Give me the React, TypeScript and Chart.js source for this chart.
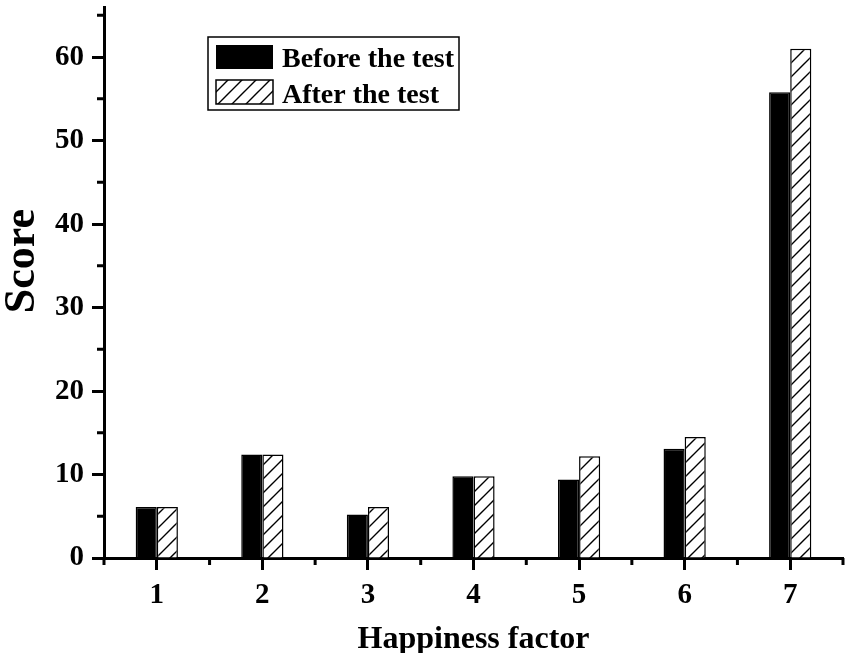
import React, { useEffect, useRef } from "react";
import { Chart, registerables } from "chart.js";

Chart.register(...registerables);

const categories = ["1", "2", "3", "4", "5", "6", "7"];
const beforeValues = [6.1, 12.4, 5.2, 9.8, 9.4, 13.1, 55.8];
const afterValues = [6.1, 12.4, 6.1, 9.8, 12.2, 14.5, 61.0];
const seriesLabels = ["Before the test", "After the test"];
const yMinorTicks = [5, 15, 25, 35, 45, 55, 65];
const xTitle = "Happiness factor";
const yTitle = "Score";
const FONT = "'Liberation Serif', 'Times New Roman', serif";

function makeHatch(ctx: CanvasRenderingContext2D) {
  const s = 14;
  const c = document.createElement("canvas");
  c.width = s;
  c.height = s;
  const g = c.getContext("2d")!;
  g.fillStyle = "#fff";
  g.fillRect(0, 0, s, s);
  g.strokeStyle = "#000";
  g.lineWidth = 1.4;
  g.beginPath();
  g.moveTo(0, s);
  g.lineTo(s, 0);
  g.moveTo(-2, 2);
  g.lineTo(2, -2);
  g.moveTo(s - 2, s + 2);
  g.lineTo(s + 2, s - 2);
  g.stroke();
  return ctx.createPattern(c, "repeat")!;
}

export default function App() {
  const ref = useRef<HTMLCanvasElement>(null);
  useEffect(() => {
    document.body.style.margin = "0";
    const canvas = ref.current!;
    const ctx = canvas.getContext("2d")!;
    const hatch = makeHatch(ctx);

    const overlay = {
      id: "overlay",
      afterDraw(chart: any) {
        const { ctx, chartArea } = chart;
        const x = chart.scales.x;
        const y = chart.scales.y;
        const L = chartArea.left;
        const T = chartArea.top;
        ctx.save();
        ctx.strokeStyle = "#000";
        ctx.lineWidth = 3;
        ctx.beginPath();
        for (const v of yMinorTicks) {
          const py = y.getPixelForValue(v);
          ctx.moveTo(L - 7, py);
          ctx.lineTo(L, py);
        }
        for (let i = 0; i <= categories.length; i++) {
          const px = x.getPixelForValue(i - 0.5);
          ctx.moveTo(px, chartArea.bottom);
          ctx.lineTo(px, chartArea.bottom + 7);
        }
        ctx.stroke();

        // legend
        ctx.lineWidth = 1.5;
        ctx.fillStyle = "#fff";
        ctx.fillRect(L + 104, T + 30, 251, 73);
        ctx.strokeRect(L + 104, T + 30, 251, 73);
        ctx.fillStyle = "#000";
        ctx.fillRect(L + 112, T + 38, 57, 24);
        ctx.fillStyle = hatch;
        ctx.fillRect(L + 112, T + 73, 57, 24);
        ctx.strokeRect(L + 112, T + 73, 57, 24);
        ctx.fillStyle = "#000";
        ctx.font = `bold 28px ${FONT}`;
        ctx.textAlign = "left";
        ctx.textBaseline = "alphabetic";
        ctx.fillText(seriesLabels[0], L + 178, T + 60);
        ctx.fillText(seriesLabels[1], L + 178, T + 96);

        // axis titles
        ctx.font = `bold 32px ${FONT}`;
        ctx.textAlign = "center";
        ctx.fillText(xTitle, (chartArea.left + chartArea.right) / 2, 648);
        ctx.save();
        ctx.translate(34, 261);
        ctx.rotate(-Math.PI / 2);
        ctx.font = `bold 44px ${FONT}`;
        ctx.fillText(yTitle, 0, 0);
        ctx.restore();
        ctx.restore();
      },
    };

    const chart = new Chart(canvas, {
      type: "bar",
      data: {
        labels: categories,
        datasets: [
          {
            label: seriesLabels[0],
            data: beforeValues,
            backgroundColor: "#000",
            borderColor: "#000",
            borderWidth: 1.5,
            barPercentage: 1,
            categoryPercentage: 0.4,
          },
          {
            label: seriesLabels[1],
            data: afterValues,
            backgroundColor: hatch as any,
            borderColor: "#000",
            borderWidth: 1.5,
            barPercentage: 1,
            categoryPercentage: 0.4,
          },
        ],
      },
      options: {
        animation: false,
        responsive: true,
        maintainAspectRatio: false,
        layout: { padding: { top: 7, right: 8, left: 0, bottom: 0 } },
        plugins: { legend: { display: false }, tooltip: { enabled: false } },
        scales: {
          x: {
            grid: {
              display: true,
              drawOnChartArea: false,
              drawTicks: true,
              tickLength: 12,
              tickWidth: 3,
              tickColor: "#000",
              offset: false,
            },
            border: { display: true, color: "#000", width: 3 },
            ticks: {
              color: "#000",
              font: { family: FONT, size: 29, weight: "bold" },
              padding: 8,
              maxRotation: 0,
            },
            afterFit: (s: any) => {
              s.height = 95;
              s.paddingLeft = 0;
              s.paddingRight = 0;
            },
          },
          y: {
            min: 0,
            max: 66,
            grid: {
              display: true,
              drawOnChartArea: false,
              drawTicks: true,
              tickLength: 12,
              tickWidth: 3,
              tickColor: "#000",
            },
            border: { display: true, color: "#000", width: 3 },
            ticks: {
              stepSize: 10,
              includeBounds: false,
              color: "#000",
              font: { family: FONT, size: 29, weight: "bold" },
              padding: 8,
            },
            afterFit: (s: any) => {
              s.width = 104;
              s.paddingTop = 0;
              s.paddingBottom = 0;
            },
          },
        },
      },
      plugins: [overlay],
    });
    return () => chart.destroy();
  }, []);

  return (
    <div style={{ width: 851, height: 653, position: "relative", background: "#fff" }}>
      <canvas ref={ref} />
    </div>
  );
}
